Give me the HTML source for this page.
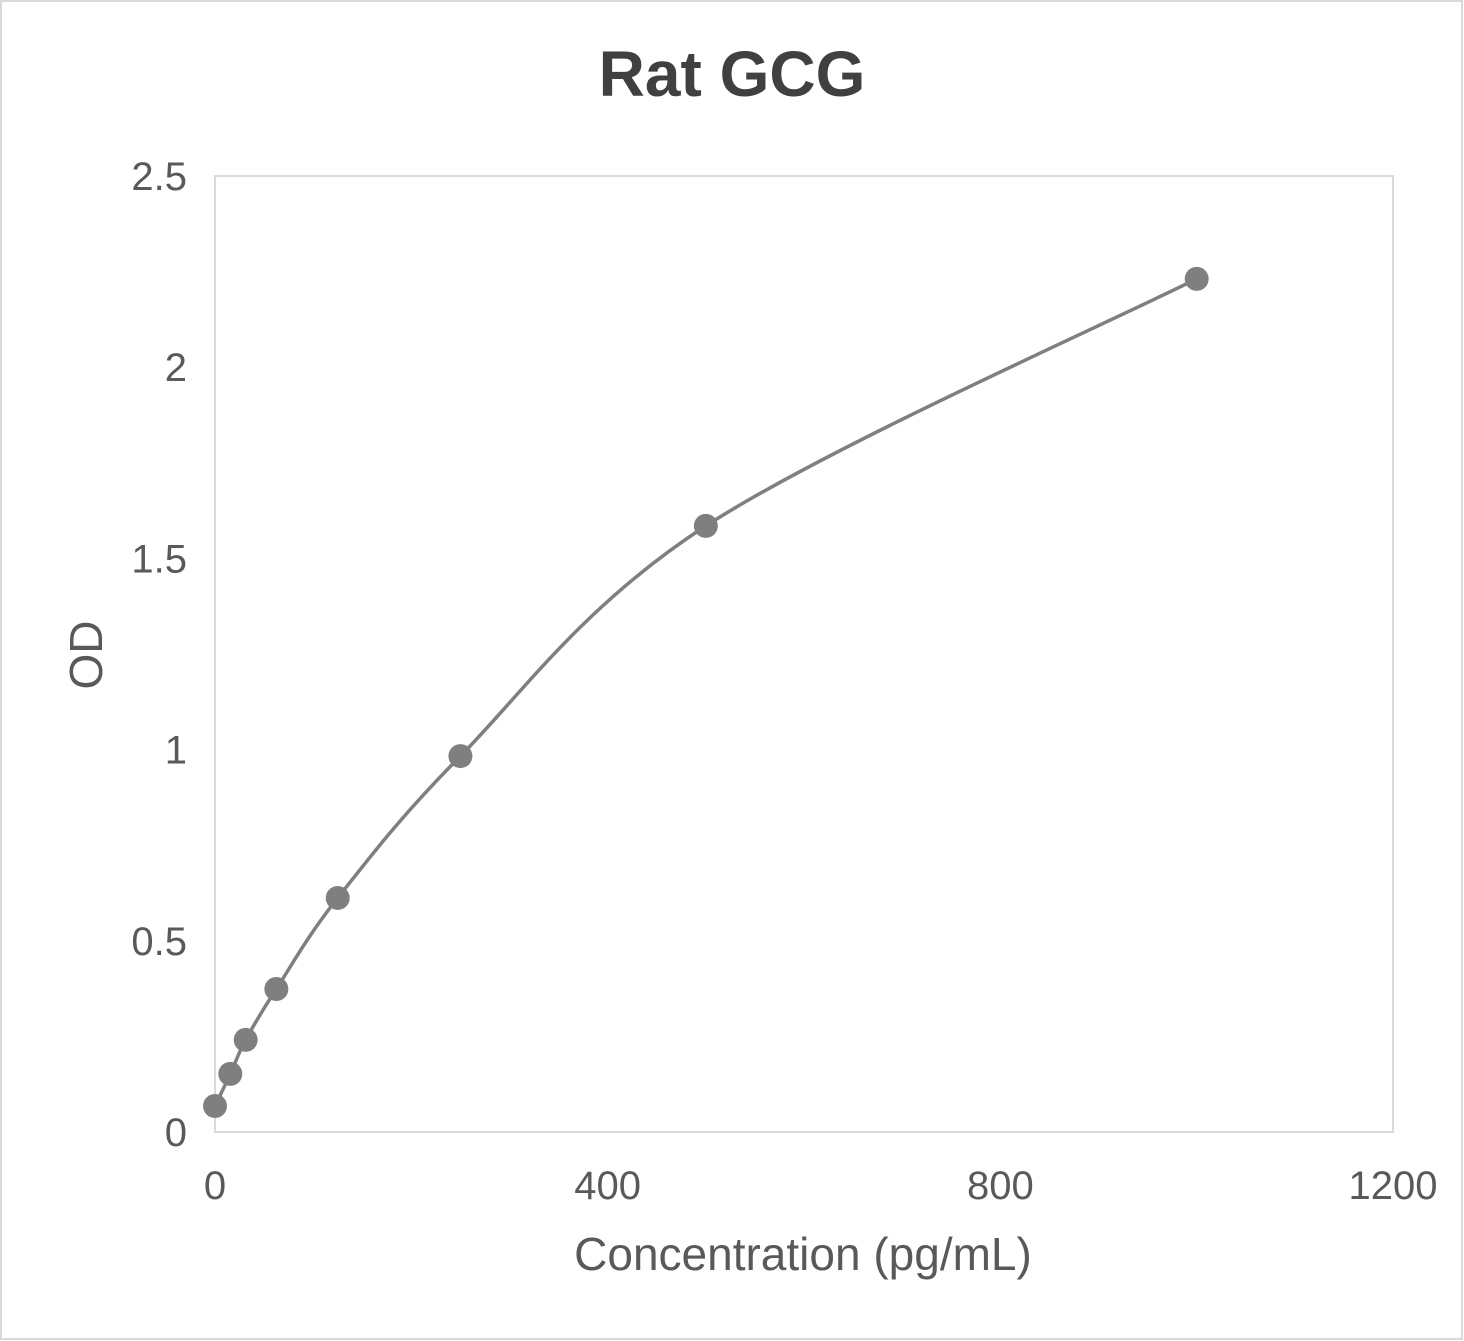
<!DOCTYPE html>
<html><head><meta charset="utf-8"><style>
html,body{margin:0;padding:0;background:#fff;}
svg{display:block;font-family:"Liberation Sans",Arial,sans-serif;}
</style></head><body>
<svg id="chart" width="1464" height="1341" viewBox="0 0 1464 1341">
<rect x="1" y="1" width="1461" height="1338" fill="#fff" stroke="#d9d9d9" stroke-width="2"/>
<text x="732" y="96" text-anchor="middle" font-size="64" font-weight="bold" fill="#404040">Rat GCG</text>
<rect x="215" y="176" width="1178" height="956" fill="none" stroke="#d9d9d9" stroke-width="2"/>
<g id="yticks"></g>
<g id="xticks"></g>
<text x="803" y="1270" text-anchor="middle" font-size="46" fill="#595959">Concentration (pg/mL)</text>
<text transform="translate(102,655) rotate(-90)" text-anchor="middle" font-size="46" fill="#595959">OD</text>
<path id="curve" fill="none" stroke="#7f7f7f" stroke-width="3.5"/>
<g id="points"></g>
</svg>
<script>
const concentrations = [0, 15.6, 31.25, 62.5, 125, 250, 500, 1000];
const odValues = [0.068, 0.152, 0.241, 0.374, 0.612, 0.983, 1.585, 2.231];
const xTickLabels = ["0", "400", "800", "1200"];
const yTickLabels = ["0", "0.5", "1", "1.5", "2", "2.5"];

const NS = "http://www.w3.org/2000/svg";
const X0 = 215, X1 = 1393, Y0 = 1132, Y1 = 176;
const xMax = 1200, yMax = 2.5;
const sx = v => X0 + v / xMax * (X1 - X0);
const sy = v => Y0 - v / yMax * (Y0 - Y1);

const yg = document.getElementById('yticks');
yTickLabels.forEach(l => {
  const t = document.createElementNS(NS, 'text');
  
  
  t.setAttribute('x', 187);
  t.setAttribute('y', sy(parseFloat(l)) + 14);
  t.setAttribute('text-anchor', 'end');
  t.setAttribute('font-size', '40');
  t.setAttribute('fill', '#595959');
  t.textContent = l;
  yg.appendChild(t);
});
const xg = document.getElementById('xticks');
xTickLabels.forEach(l => {
  const t = document.createElementNS(NS, 'text');
  
  
  t.setAttribute('x', sx(parseFloat(l)));
  t.setAttribute('y', 1199);
  t.setAttribute('text-anchor', 'middle');
  t.setAttribute('font-size', '40');
  t.setAttribute('fill', '#595959');
  t.textContent = l;
  xg.appendChild(t);
});

const pts = concentrations.map((c, i) => [sx(c), sy(odValues[i])]);
let d = `M${pts[0][0]},${pts[0][1]}`;
for (let i = 0; i < pts.length - 1; i++) {
  const p0 = pts[Math.max(0, i - 1)], p1 = pts[i], p2 = pts[i + 1], p3 = pts[Math.min(pts.length - 1, i + 2)];
  const k = 1 / 6;
  const c1 = [p1[0] + (p2[0] - p0[0]) * k, p1[1] + (p2[1] - p0[1]) * k];
  const c2 = [p2[0] - (p3[0] - p1[0]) * k, p2[1] - (p3[1] - p1[1]) * k];
  d += ` C${c1[0]},${c1[1]} ${c2[0]},${c2[1]} ${p2[0]},${p2[1]}`;
}
document.getElementById('curve').setAttribute('d', d);

const pg = document.getElementById('points');
pts.forEach(p => {
  const c = document.createElementNS(NS, 'circle');
  
  
  c.setAttribute('cx', p[0]);
  c.setAttribute('cy', p[1]);
  c.setAttribute('r', 12);
  c.setAttribute('fill', '#7f7f7f');
  pg.appendChild(c);
});
</script>
</body></html>
